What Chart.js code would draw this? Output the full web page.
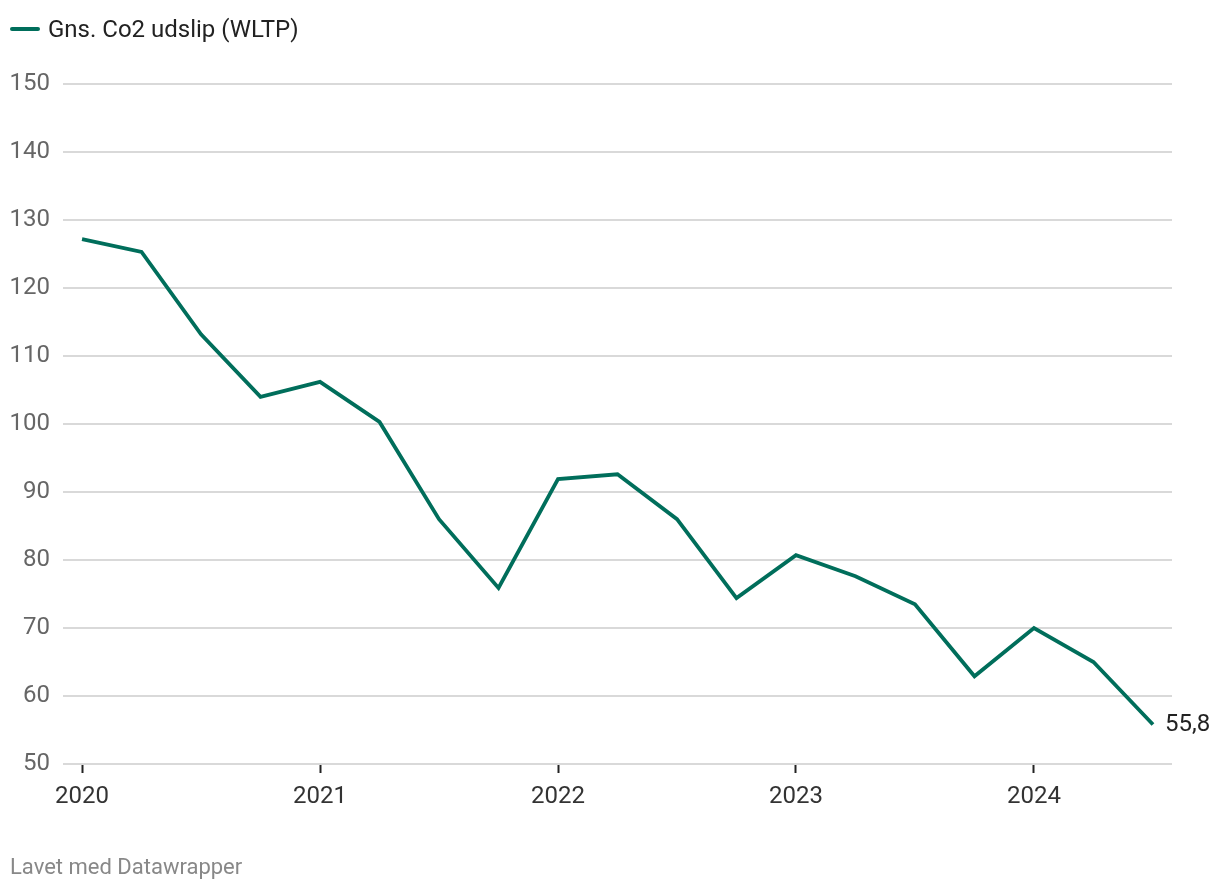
<!DOCTYPE html>
<html><head><meta charset="utf-8">
<script src="https://cdn.jsdelivr.net/npm/chart.js@4"></script>
<style>
html,body{margin:0;padding:0;background:#fff;width:1220px;height:890px;overflow:hidden;font-family:Roboto,"Noto Sans",sans-serif;}
#wrap{position:absolute;left:0;top:0;width:1220px;height:890px;}
#legend{position:absolute;left:10px;top:15px;display:flex;align-items:center;font-size:24px;color:#222;}
#legend .sw{width:30px;height:4px;border-radius:2px;background:#006e5b;margin-right:8px;}
#footer{position:absolute;left:10px;top:854px;font-size:22px;color:#888;}
</style></head>
<body>
<div id="wrap"><canvas id="c" width="1220" height="890"></canvas></div>
<div id="legend"><span class="sw"></span><span>Gns. Co2 udslip (WLTP)</span></div>
<div id="footer">Lavet med Datawrapper</div>
<script>
const seriesName = 'Gns. Co2 udslip (WLTP)';
const periods = [2020.0,2020.25,2020.5,2020.75,2021.0,2021.25,2021.5,2021.75,2022.0,2022.25,2022.5,2022.75,2023.0,2023.25,2023.5,2023.75,2024.0,2024.25,2024.5];
const co2 = [127.2,125.3,113.2,104.0,106.2,100.3,86.0,75.9,91.9,92.6,86.0,74.4,80.7,77.6,73.5,62.9,70.0,65.0,55.8];
const yearTicks = [2020,2021,2022,2023,2024];
const yTicks = [50,60,70,80,90,100,110,120,130,140,150];
const lineColor = '#006e5b';

const endLabel = {
  id:'endLabel',
  afterDatasetsDraw(chart){
    const meta = chart.getDatasetMeta(0);
    const p = meta.data[meta.data.length-1];
    const ctx = chart.ctx;
    ctx.save();
    ctx.font = '24px Roboto';
    ctx.fillStyle = '#222';
    ctx.textAlign = 'left';
    ctx.textBaseline = 'middle';
    ctx.fillText(String(co2[co2.length-1]).replace('.',','), p.x + 12, p.y);
    ctx.restore();
  }
};

new Chart(document.getElementById('c'), {
  type:'line',
  data:{datasets:[{label:seriesName,data:periods.map((x,i)=>({x:x,y:co2[i]})),borderColor:lineColor,borderWidth:3.8,pointRadius:0,tension:0,fill:false,borderJoinStyle:'miter'}]},
  options:{
    responsive:false,animation:false,
    layout:{padding:{top:84,right:48,bottom:76,left:0}},
    plugins:{legend:{display:false},tooltip:{enabled:false}},
    scales:{
      x:{type:'linear',min:2019.92,max:2024.58,
        afterBuildTicks(s){s.ticks=yearTicks.map(v=>({value:v}));},
        afterFit(s){s.height=50;},
        grid:{drawOnChartArea:false,drawTicks:true,tickLength:9,tickColor:'#222',tickWidth:2},
        border:{display:false},
        ticks:{font:{family:'Roboto',size:24},color:'#333',padding:10,maxRotation:0,autoSkip:false,callback:v=>String(v)}},
      y:{min:50,max:150,
        afterBuildTicks(s){s.ticks=yTicks.map(v=>({value:v}));},
        afterFit(s){s.width=63;},
        grid:{color:'#d9d9d9',lineWidth:2,drawTicks:false},
        border:{display:false},
        ticks:{font:{family:'Roboto',size:24},color:'#666',padding:13}}
    }
  },
  plugins:[endLabel]
});
</script>
</body></html>
